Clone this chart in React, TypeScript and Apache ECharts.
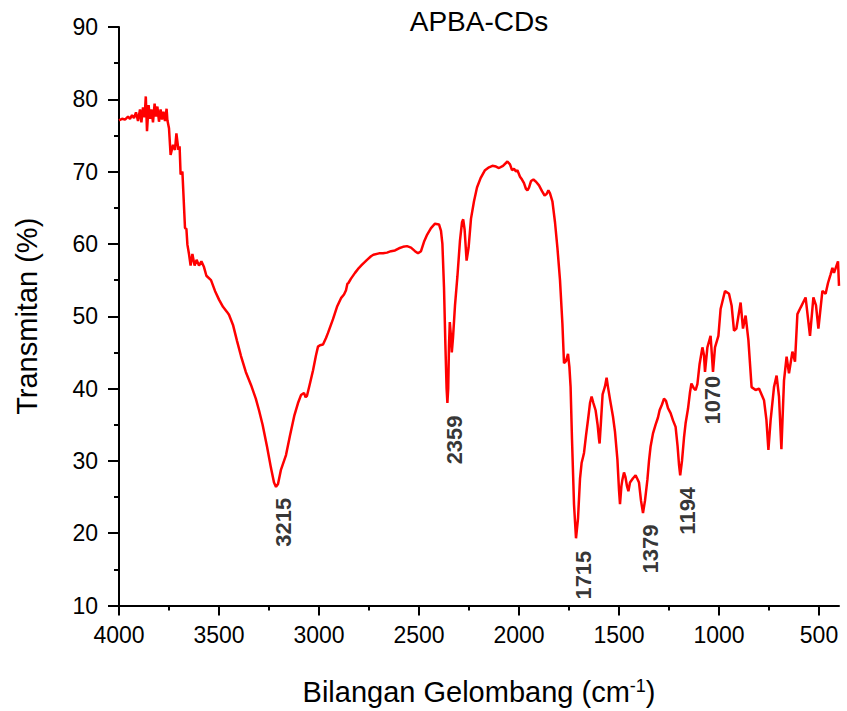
import React, { useEffect, useRef } from "react";
import * as echarts from "echarts";

// Wavenumber (cm-1) and transmittance (%)
const wavenumber = [
  4000, 3985, 3970, 3955, 3945, 3935, 3925, 3915, 3905, 3895, 3888, 3880, 3872, 3866, 3860, 3852, 3845, 3838, 3830, 3822,
  3815, 3808, 3800, 3792, 3785, 3778, 3770, 3762, 3758, 3750, 3742, 3730, 3720, 3713, 3703, 3697, 3692, 3683, 3670, 3663,
  3658, 3650, 3642, 3633, 3622, 3612, 3600, 3588, 3575, 3563, 3540, 3520, 3500, 3480, 3460, 3450, 3430, 3410, 3390, 3366,
  3340, 3316, 3300, 3282, 3260, 3240, 3225, 3215, 3205, 3190, 3165, 3145, 3123, 3105, 3090, 3075, 3067, 3060, 3047, 3030,
  3015, 3005, 2995, 2980, 2965, 2955, 2930, 2910, 2890, 2875, 2865, 2858, 2853, 2840, 2820, 2800, 2786, 2760, 2740, 2728,
  2700, 2680, 2660, 2640, 2620, 2600, 2580, 2560, 2540, 2520, 2505, 2490, 2475, 2459, 2440, 2420, 2400, 2390, 2383, 2375,
  2368, 2362, 2358, 2354, 2350, 2346, 2341, 2336, 2330, 2320, 2308, 2295, 2285, 2279, 2272, 2262, 2252, 2240, 2225, 2210,
  2192, 2170, 2150, 2133, 2115, 2100, 2080, 2058, 2045, 2035, 2025, 2015, 2008, 1995, 1985, 1975, 1965, 1958, 1950, 1940,
  1928, 1915, 1900, 1885, 1872, 1862, 1853, 1845, 1833, 1820, 1808, 1795, 1783, 1775, 1765, 1755, 1748, 1742, 1735, 1725,
  1715, 1705, 1695, 1687, 1680, 1675, 1665, 1653, 1645, 1637, 1628, 1617, 1607, 1600, 1597, 1590, 1582, 1570, 1562, 1555,
  1545, 1530, 1520, 1508, 1500, 1495, 1488, 1483, 1475, 1468, 1460, 1453, 1445, 1430, 1417, 1408, 1400, 1390, 1380, 1370,
  1358, 1350, 1342, 1330, 1317, 1305, 1297, 1285, 1275, 1265, 1255, 1242, 1230, 1217, 1207, 1200, 1194, 1185, 1175, 1167,
  1155, 1145, 1138, 1125, 1117, 1108, 1097, 1083, 1075, 1070, 1058, 1042, 1030, 1020, 1003, 992, 970, 950, 937, 925,
  913, 892, 880, 867, 853, 837, 817, 800, 775, 763, 753, 742, 725, 712, 700, 688, 675, 662, 650, 633,
  620, 608, 592, 567, 545, 528, 515, 503, 483, 467, 455, 442, 433, 425, 405, 400,
];
const transmittance = [
  77.1, 77.3, 77.2, 77.6, 77.3, 77.8, 77.4, 78.2, 77.0, 78.6, 76.8, 78.9, 77.5, 80.4, 75.6, 79.2, 77.3, 78.6, 76.8, 79.4,
  77.6, 79.0, 76.9, 78.6, 77.2, 78.3, 77.0, 78.7, 77.1, 76.0, 72.3, 73.7, 73.0, 75.3, 73.0, 73.5, 69.6, 70.0, 62.2, 62.1,
  59.9, 58.6, 57.0, 58.6, 57.0, 57.8, 57.0, 57.6, 56.8, 55.6, 55.0, 53.5, 52.3, 51.3, 50.6, 50.2, 48.8, 46.6, 44.5, 42.3,
  40.5, 38.6, 37.0, 35.0, 32.0, 29.0, 27.0, 26.4, 26.8, 28.8, 30.8, 33.5, 36.3, 38.0, 39.1, 39.4, 38.8, 39.0, 40.5, 42.5,
  44.6, 45.8, 46.0, 46.1, 47.0, 47.7, 49.6, 51.3, 52.5, 53.0, 53.6, 54.5, 54.6, 55.2, 56.0, 56.7, 57.1, 57.8, 58.3, 58.5,
  58.7, 58.7, 58.8, 59.0, 59.1, 59.4, 59.6, 59.7, 59.5, 59.0, 58.7, 59.0, 60.3, 61.3, 62.2, 62.8, 62.7, 61.8, 60.0, 54.0,
  46.0, 40.0, 38.0, 40.0, 46.0, 49.2, 47.5, 45.0, 47.0, 51.5, 55.5, 60.5, 63.0, 63.4, 62.0, 57.7, 59.5, 63.5, 65.9, 67.8,
  69.1, 70.2, 70.6, 70.8, 70.7, 70.5, 70.8, 71.4, 71.0, 70.2, 70.4, 70.0, 70.2, 69.3, 68.9, 68.4, 67.6, 67.4, 67.8, 68.7,
  68.9, 68.6, 68.1, 67.3, 66.7, 66.9, 67.4, 67.0, 65.9, 63.0, 59.5, 55.0, 49.0, 43.5, 43.8, 44.8, 43.0, 40.2, 33.0, 24.0,
  19.3, 22.0, 27.5, 29.7, 30.5, 31.1, 33.5, 36.1, 38.0, 38.9, 38.0, 37.0, 35.0, 33.0, 32.4, 35.5, 39.2, 40.3, 41.5, 40.2,
  38.5, 36.1, 34.0, 30.2, 26.0, 24.0, 26.5, 27.4, 28.4, 27.8, 26.5, 25.8, 27.0, 27.6, 28.0, 27.5, 27.0, 24.5, 22.8, 24.5,
  27.4, 30.0, 32.0, 33.8, 35.0, 36.0, 37.0, 37.8, 38.6, 38.3, 37.3, 36.6, 35.6, 34.7, 32.0, 29.5, 28.0, 30.0, 33.2, 35.2,
  37.2, 39.5, 40.7, 40.0, 39.8, 40.6, 43.4, 45.7, 44.6, 42.3, 45.7, 47.3, 42.3, 45.7, 47.3, 51.0, 53.5, 53.1, 51.5, 48.0,
  48.3, 51.9, 48.3, 50.1, 46.7, 40.2, 39.8, 40.0, 38.4, 35.7, 31.5, 35.6, 40.2, 41.8, 38.9, 31.6, 41.1, 44.4, 42.1, 45.1,
  43.7, 50.3, 51.2, 52.6, 47.3, 52.6, 51.5, 48.3, 53.5, 53.1, 54.6, 55.8, 56.7, 56.0, 57.6, 54.2,
];

// Peak annotations (text, and the data position of the label centre)
const peakLabels = ["3215", "2359", "1715", "1379", "1194", "1070"];
const peakLabelX = [3179, 2322, 1678, 1343, 1156, 1033];
const peakLabelY = [21.5, 32.9, 14.2, 17.8, 23.1, 38.4];

// Axis tick values
const xMajorTicks = [500, 1000, 1500, 2000, 2500, 3000, 3500, 4000];
const xMinorTicks = [750, 1250, 1750, 2250, 2750, 3250, 3750];

const chartTitle = "APBA-CDs";
const yTitle = "Transmitan (%)";

const FONT = "'Liberation Sans', Arial, Helvetica, sans-serif";

export default function App() {
  const ref = useRef<HTMLDivElement>(null);

  useEffect(() => {
    if (!ref.current) return;
    const chart = echarts.init(ref.current, null, { renderer: "svg" });
    const lineData = wavenumber.map((w, i) => [w, transmittance[i]]);
    const labelData = peakLabels.map((t, i) => ({ value: [peakLabelX[i], peakLabelY[i]], name: t }));

    chart.setOption({
      animation: false,
      backgroundColor: "#ffffff",
      textStyle: { fontFamily: FONT },
      grid: { left: 119, right: 8, top: 27, bottom: 100.5, containLabel: false },
      graphic: [
        {
          type: "text",
          x: 479,
          y: 7,
          style: {
            text: chartTitle,
            fontSize: 28,
            fontFamily: FONT,
            fill: "#000",
            align: "center",
            verticalAlign: "top",
          },
        },
      ],
      xAxis: [
        {
          type: "value",
          min: 400,
          max: 4000,
          inverse: true,
          position: "bottom",
          splitLine: { show: false },
          axisLine: { show: true, lineStyle: { color: "#000", width: 2 } },
          axisTick: {
            show: true,
            customValues: xMajorTicks,
            inside: false,
            length: 10,
            lineStyle: { color: "#000", width: 2 },
          },
          axisLabel: {
            customValues: xMajorTicks,
            formatter: (v: number) => String(v),
            fontSize: 23,
            color: "#000",
            fontFamily: FONT,
            margin: 18,
          },
          name: "{n|Bilangan Gelombang (cm}{s|-1}{n|)}",
          nameLocation: "middle",
          nameGap: 71,
          nameTextStyle: {
            rich: {
              n: { fontSize: 29, fontFamily: FONT, color: "#000", lineHeight: 30 },
              s: { fontSize: 18, fontFamily: FONT, color: "#000", verticalAlign: "top", lineHeight: 30 },
            },
          },
        },
        {
          type: "value",
          min: 400,
          max: 4000,
          inverse: true,
          position: "bottom",
          splitLine: { show: false },
          axisLine: { show: false },
          axisTick: {
            show: true,
            customValues: xMinorTicks,
            inside: false,
            length: 5,
            lineStyle: { color: "#000", width: 2 },
          },
          axisLabel: { show: false },
        },
      ],
      yAxis: {
        type: "value",
        min: 10,
        max: 90,
        interval: 10,
        splitLine: { show: false },
        axisLine: { show: true, lineStyle: { color: "#000", width: 2 } },
        axisTick: { show: true, inside: false, length: 11, lineStyle: { color: "#000", width: 2 } },
        minorTick: { show: true, splitNumber: 2, length: 5, lineStyle: { color: "#000", width: 2 } },
        minorSplitLine: { show: false },
        axisLabel: { fontSize: 23, color: "#000", fontFamily: FONT, margin: 21 },
        name: yTitle,
        nameLocation: "middle",
        nameGap: 78,
        nameTextStyle: { fontSize: 29, color: "#000", fontFamily: FONT },
      },
      series: [
        {
          type: "line",
          data: lineData,
          showSymbol: false,
          symbol: "none",
          lineStyle: { color: "#ff0000", width: 2.5 },
          itemStyle: { color: "#ff0000" },
          z: 3,
        },
        {
          type: "scatter",
          data: labelData,
          symbolSize: 0,
          itemStyle: { color: "transparent" },
          label: {
            show: true,
            position: "inside",
            rotate: 90,
            formatter: (p: any) => p.name,
            fontSize: 22,
            fontWeight: "bold",
            color: "#000",
            textBorderWidth: 0,
            fontFamily: FONT,
          },
          z: 4,
        },
      ],
    });

    return () => chart.dispose();
  }, []);

  return (
    <div
      ref={ref}
      style={{ position: "fixed", left: 0, top: 0, width: 847, height: 711, background: "#fff" }}
    />
  );
}
